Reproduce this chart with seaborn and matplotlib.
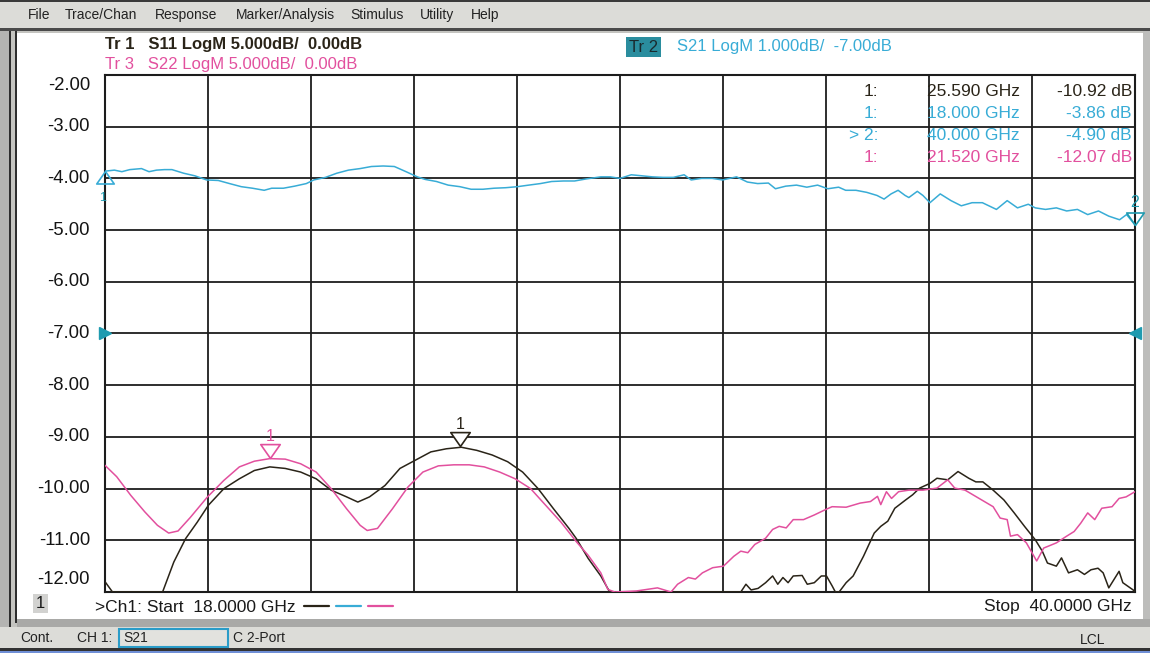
import numpy as np
import pandas as pd
import matplotlib.pyplot as plt
import seaborn as sns
from matplotlib.patches import Rectangle
from matplotlib.path import Path

sns.set_style("white")
plt.rcParams['font.family'] = ['Liberation Sans', 'DejaVu Sans']

# -------------------------------
# Data (frequency in GHz, values in display units of the -2..-12 graticule)
# -------------------------------
s21_freq = [18.0, 18.2, 18.36, 18.53, 18.78, 18.94, 19.1, 19.27, 19.43, 19.68, 19.92, 20.17,
            20.42, 20.66, 20.91, 21.15, 21.40, 21.56, 21.81, 22.05, 22.30, 22.46, 22.71, 22.95,
            23.2, 23.45, 23.69, 23.94, 24.18, 24.43, 24.67, 24.84, 25.08, 25.33, 25.58, 25.82,
            26.07, 26.31, 26.56, 26.81, 27.05, 27.30, 27.54, 27.79, 28.03, 28.28, 28.59, 28.79,
            29.0, 29.24, 29.47, 29.69, 29.92, 30.14, 30.37, 30.52, 30.74, 30.97, 31.19, 31.34,
            31.49, 31.72, 31.94, 32.17, 32.32, 32.54, 32.77, 32.99, 33.22, 33.44, 33.67, 33.82,
            34.04, 34.27, 34.49, 34.64, 34.79, 34.94, 35.09, 35.17, 35.35, 35.47, 35.62, 35.84,
            36.07, 36.29, 36.52, 36.74, 37.04, 37.27, 37.49, 37.72, 37.87, 38.09, 38.32, 38.54,
            38.77, 38.99, 39.22, 39.44, 39.67, 39.82, 40.0]
s21_val = [-3.86, -3.84, -3.87, -3.83, -3.81, -3.87, -3.84, -3.83, -3.83, -3.90, -3.95, -4.03,
           -4.04, -4.10, -4.16, -4.19, -4.23, -4.19, -4.19, -4.15, -4.10, -4.03, -3.98, -3.90,
           -3.84, -3.81, -3.77, -3.76, -3.77, -3.87, -3.97, -4.02, -4.06, -4.13, -4.16, -4.21,
           -4.21, -4.19, -4.18, -4.16, -4.13, -4.10, -4.06, -4.05, -4.05, -4.01, -3.97, -3.97,
           -4.00, -3.93, -3.95, -3.97, -3.98, -3.98, -3.93, -4.03, -4.00, -4.00, -4.03, -4.00,
           -3.97, -4.07, -4.10, -4.09, -4.20, -4.15, -4.13, -4.17, -4.13, -4.20, -4.17, -4.23,
           -4.23, -4.27, -4.33, -4.40, -4.30, -4.23, -4.33, -4.37, -4.25, -4.33, -4.47, -4.30,
           -4.43, -4.53, -4.47, -4.47, -4.60, -4.43, -4.57, -4.50, -4.57, -4.60, -4.57, -4.63,
           -4.60, -4.70, -4.63, -4.73, -4.80, -4.70, -4.90]

s11_freq = [18.0, 18.16, 19.23, 19.47, 19.72, 19.97, 20.21, 20.54, 20.87, 21.19, 21.52, 21.85,
            22.18, 22.51, 22.83, 23.16, 23.40, 23.65, 23.98, 24.30, 24.63, 24.96, 25.29, 25.61,
            25.94, 26.27, 26.60, 26.92, 27.25, 27.58, 27.91, 28.07, 28.32, 28.59, 28.78, 31.58,
            31.69, 31.80, 31.95, 32.11, 32.26, 32.37, 32.48, 32.59, 32.70, 32.89, 33.0, 33.15,
            33.30, 33.41, 33.53, 33.60, 33.68, 33.83, 33.98, 34.2, 34.43, 34.57, 34.72, 34.87,
            35.10, 35.25, 35.40, 35.62, 35.77, 36.0, 36.22, 36.45, 36.60, 36.75, 36.97, 37.20,
            37.42, 37.64, 37.87, 38.02, 38.13, 38.32, 38.43, 38.58, 38.77, 38.92, 39.06, 39.21,
            39.32, 39.44, 39.55, 39.66, 39.74, 39.96, 40.0]
s11_val = [-11.80, -12.0, -12.0, -11.42, -10.97, -10.65, -10.32, -10.0, -9.81, -9.65, -9.58, -9.61,
           -9.68, -9.81, -10.03, -10.16, -10.26, -10.16, -9.94, -9.61, -9.45, -9.29, -9.23, -9.20,
           -9.26, -9.35, -9.48, -9.68, -10.0, -10.39, -10.77, -10.97, -11.35, -11.69, -12.0, -12.0,
           -11.85, -11.96, -11.93, -11.82, -11.69, -11.85, -11.72, -11.82, -11.69, -11.68, -11.85, -11.82,
           -11.69, -11.69, -11.88, -12.0, -12.0, -11.82, -11.69, -11.31, -10.86, -10.73, -10.63, -10.38,
           -10.22, -10.12, -9.99, -9.90, -9.80, -9.83, -9.67, -9.80, -9.87, -9.87, -10.03, -10.22,
           -10.47, -10.73, -10.99, -11.21, -11.44, -11.50, -11.34, -11.63, -11.57, -11.66, -11.57, -11.54,
           -11.63, -11.92, -11.76, -11.60, -11.82, -11.96, -12.0]

s22_freq = [18.0, 18.25, 18.55, 18.85, 19.12, 19.36, 19.56, 19.82, 20.18, 20.54, 20.87, 21.19,
            21.52, 21.85, 22.18, 22.51, 22.83, 23.16, 23.45, 23.60, 23.82, 24.14, 24.47, 24.79,
            25.12, 25.45, 25.78, 26.10, 26.43, 26.76, 27.09, 27.41, 27.74, 28.07, 28.32, 28.59,
            28.74, 28.89, 29.35, 29.80, 30.09, 30.23, 30.46, 30.61, 30.76, 30.98, 31.21, 31.43,
            31.58, 31.73, 31.88, 32.11, 32.26, 32.40, 32.55, 32.70, 32.92, 33.15, 33.38, 33.53,
            33.83, 34.13, 34.35, 34.50, 34.57, 34.69, 34.80, 34.95, 35.17, 35.47, 35.77, 36.0,
            36.15, 36.37, 36.67, 36.97, 37.12, 37.27, 37.34, 37.49, 37.68, 37.90, 38.05, 38.32,
            38.54, 38.70, 38.84, 38.99, 39.14, 39.29, 39.51, 39.66, 39.81, 40.0]
s22_val = [-9.55, -9.77, -10.13, -10.45, -10.71, -10.86, -10.82, -10.56, -10.17, -9.84, -9.58, -9.47,
           -9.42, -9.43, -9.52, -9.68, -10.0, -10.39, -10.71, -10.81, -10.77, -10.39, -9.97, -9.68,
           -9.56, -9.54, -9.54, -9.58, -9.68, -9.81, -10.0, -10.32, -10.65, -11.03, -11.29, -11.63,
           -11.95, -12.0, -11.98, -11.92, -12.0, -11.85, -11.72, -11.75, -11.63, -11.53, -11.50, -11.31,
           -11.21, -11.24, -11.08, -10.96, -10.79, -10.73, -10.76, -10.60, -10.60, -10.51, -10.41, -10.35,
           -10.36, -10.28, -10.25, -10.15, -10.31, -10.06, -10.19, -10.06, -10.03, -10.03, -9.99, -9.83,
           -9.99, -10.03, -10.19, -10.35, -10.57, -10.60, -10.92, -10.89, -11.05, -11.40, -11.15, -11.05,
           -10.92, -10.83, -10.67, -10.47, -10.60, -10.38, -10.35, -10.19, -10.16, -10.06]

y_ticks = [-2, -3, -4, -5, -6, -7, -8, -9, -10, -11, -12]

# markers: (freq, display value)
s11_marker = (25.59, -9.18)
s22_marker = (21.52, -9.41)
s21_marker1 = (18.0, -3.86)
s21_marker2 = (40.0, -4.90)

marker_rows = [("1:", "25.590 GHz", "-10.92 dB"),
               ("1:", "18.000 GHz", "-3.86 dB"),
               ("> 2:", "40.000 GHz", "-4.90 dB"),
               ("1:", "21.520 GHz", "-12.07 dB")]

BLACK = '#2a2418'
BLUE = '#38acd6'
PINK = '#e2509e'
TEAL = '#1f9bb0'
row_colors = [BLACK, BLUE, BLUE, PINK]

df = pd.concat([
    pd.DataFrame({'freq': s11_freq, 'val': s11_val, 'trace': 'S11'}),
    pd.DataFrame({'freq': s21_freq, 'val': s21_val, 'trace': 'S21'}),
    pd.DataFrame({'freq': s22_freq, 'val': s22_val, 'trace': 'S22'}),
])

W, H = 1150, 653
fig = plt.figure(figsize=(W / 100, H / 100), dpi=100)
fig.patch.set_facecolor('#c4c4c0')


def rect(x, y, w, h, color, z=0):
    fig.add_artist(Rectangle((x / W, 1 - (y + h) / H), w / W, h / H, transform=fig.transFigure,
                             facecolor=color, edgecolor='none', zorder=z))


def ftext(x, y, s, **kw):
    kw.setdefault('va', 'center')
    kw.setdefault('fontsize', 10)
    fig.text(x / W, 1 - y / H, s, **kw)


# window frame
rect(0, 0, W, 29, '#dcdcd8')
rect(0, 0, W, 2, '#3a3a3a')
rect(0, 28, W, 3, '#4a4a4a')
rect(0, 31, 9, 600, '#b4b4b2')
rect(9, 31, 2, 596, '#2e2e2e')
rect(15, 31, 2, 592, '#2e2e2e')
rect(17, 33, 1126, 587, 'white')
rect(1143, 31, 7, 596, '#bdbdbb')
rect(17, 619, 1133, 8, '#a9a9a7')
rect(0, 627, W, 21, '#dcdcd8')
rect(0, 648, W, 3, '#333333')
rect(0, 651, W, 2, '#6f8fd6')

for x, s in [(28, "File"), (65, "Trace/Chan"), (155, "Response"), (236, "Marker/Analysis"),
             (350, "Stimulus"), (420, "Utility"), (471, "Help")]:
    ftext(x, 15, s, color='#222222', fontsize=10)

# status bar
ftext(20, 638, "Cont.", color='#222222')
ftext(77, 638, "CH 1:", color='#222222')
rect(119, 629, 109, 18, '#e2e2de')
fig.add_artist(Rectangle((119 / W, 1 - 647 / H), 109 / W, 18 / H, transform=fig.transFigure,
                         facecolor='none', edgecolor='#2a9cc8', lw=1.5, zorder=1))
ftext(123, 638, "S21", color='#222222')
ftext(233, 638, "C 2-Port", color='#222222')
ftext(1080, 640, "LCL", color='#222222')

# -------------------------------
# Plot area
# -------------------------------
ax = fig.add_axes([105 / W, 1 - 592 / H, 1030 / W, 517 / H])
sns.lineplot(data=df, x='freq', y='val', hue='trace', estimator=None, sort=False,
             palette={'S11': BLACK, 'S21': BLUE, 'S22': PINK}, linewidth=1.1,
             legend=False, ax=ax, zorder=3)

ax.set_xlim(18, 40)
ax.set_ylim(-12, -2)
ax.set_xticks(np.linspace(18, 40, 11))
ax.set_yticks(y_ticks)
ax.grid(True, color='#1c1c1c', linewidth=1.3)
ax.tick_params(length=0, labelleft=False, labelbottom=False)
ax.set_xlabel('')
ax.set_ylabel('')
for sp in ax.spines.values():
    sp.set_color('#1c1c1c')
    sp.set_linewidth(1.5)

# y labels (end labels sit inside the graticule like on the instrument)
for v in y_ticks:
    dy = -11 if v == -2 else (12 if v == -12 else 0)
    ax.annotate(f"{v:.2f}", xy=(0, v), xycoords=('axes fraction', 'data'),
                xytext=(-15, dy), textcoords='offset pixels', ha='right', va='center',
                fontsize=13.3, color='#141414', annotation_clip=False)

# marker triangles with tip on the trace
tri_down = Path([(0, 0), (-0.7, 1), (0.7, 1), (0, 0)], [1, 2, 2, 79])
tri_up = Path([(0, 0), (-0.7, -1), (0.7, -1), (0, 0)], [1, 2, 2, 79])

for (f, v), col in [(s11_marker, BLACK), (s22_marker, PINK)]:
    ax.plot(f, v, marker=tri_down, ms=20, mfc='white', mec=col, mew=1.2, zorder=5)
    ax.annotate("1", xy=(f, v), xytext=(0, 22), textcoords='offset pixels',
                ha='center', va='center', fontsize=11.5, color=col)

ax.plot(*s21_marker1, marker=tri_up, ms=18, mfc='none', mec=BLUE, mew=1.2, zorder=5, clip_on=False)
ax.annotate("1", xy=s21_marker1, xytext=(-2, -27), textcoords='offset pixels',
            ha='center', va='center', fontsize=9, color=TEAL, annotation_clip=False)
ax.plot(*s21_marker2, marker=tri_down, ms=18, mfc='none', mec=TEAL, mew=1.2, zorder=5, clip_on=False)
ax.annotate("2", xy=s21_marker2, xytext=(0, 22), textcoords='offset pixels',
            ha='center', va='center', fontsize=11.5, color=TEAL, annotation_clip=False)

# reference level arrows at -7 dB
ax.plot(0, -7, marker='>', ms=9, color=TEAL, transform=ax.get_yaxis_transform(),
        clip_on=False, zorder=5)
ax.plot(1, -7, marker='<', ms=9, color=TEAL, transform=ax.get_yaxis_transform(),
        clip_on=False, zorder=5)

# marker readout table
for i, (a, b, c) in enumerate(marker_rows):
    y = 91 + 22 * i
    ftext(878, y, a, ha='right', fontsize=12.5, color=row_colors[i], zorder=6)
    ftext(1020, y, b, ha='right', fontsize=12.5, color=row_colors[i], zorder=6)
    ftext(1132, y, c, ha='right', fontsize=12.5, color=row_colors[i], zorder=6)

# trace headers
ftext(105, 45, "Tr 1   S11 LogM 5.000dB/  0.00dB", fontsize=12, color=BLACK,
      fontweight='bold', zorder=6)
ftext(105, 64, "Tr 3   S22 LogM 5.000dB/  0.00dB", fontsize=12, color=PINK, zorder=6)
ftext(629, 47, "Tr 2", fontsize=12, color='#1a2a2e', zorder=6,
      bbox=dict(facecolor='#2a8d9e', edgecolor='none', pad=2))
ftext(677, 47, "S21 LogM 1.000dB/  -7.00dB", fontsize=12, color=BLUE, zorder=6)

# channel footer
rect(33, 594, 15, 19, '#d2d2d0', z=1)
ftext(36, 603, "1", fontsize=12, color='#1a1a1a', zorder=6)
ftext(95, 607, ">Ch1: Start  18.0000 GHz", fontsize=12.5, color='#1a1a1a', zorder=6)
for x0, col in [(304, BLACK), (336, BLUE), (368, PINK)]:
    fig.add_artist(plt.Line2D([x0 / W, (x0 + 25) / W], [1 - 606 / H] * 2,
                              transform=fig.transFigure, color=col, lw=1.6, zorder=6))
ftext(1132, 607, "Stop  40.0000 GHz", ha='right', fontsize=12.5, color='#1a1a1a', zorder=6)

fig.savefig("out.png", dpi=100, facecolor=fig.get_facecolor())
